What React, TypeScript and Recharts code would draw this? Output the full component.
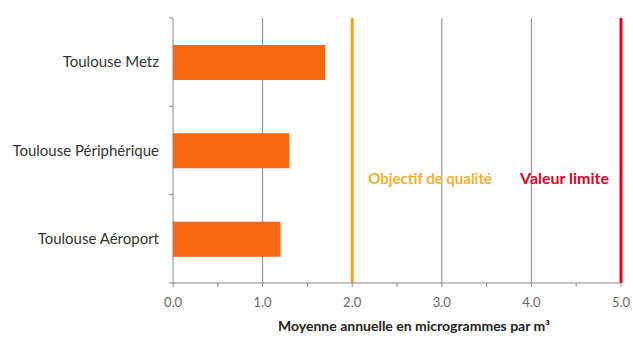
import React from "react";
import {
  BarChart,
  Bar,
  CartesianGrid,
  XAxis,
  YAxis,
  ReferenceLine,
  Label,
} from "recharts";

const stations = ["Toulouse Metz", "Toulouse Périphérique", "Toulouse Aéroport"];
const moyennes = [1.7, 1.3, 1.2];
const xTicks = [0, 0.5, 1, 1.5, 2, 2.5, 3, 3.5, 4, 4.5, 5];
const gridValues = [1, 2, 3, 4, 5];
const objectifQualite = 2;
const valeurLimite = 5;

const data = stations.map((station, i) => ({ station, moyenne: moyennes[i] }));

const FONT = "Lato, 'Open Sans', sans-serif";

function StationTick(props: any) {
  const { x, y, payload, index } = props;
  const half = payload.offset || 0;
  return (
    <g>
      <text x={x} y={y} dy={5} textAnchor="end" fontSize={15} fill="#333" fontFamily={FONT}>
        {payload.value}
      </text>
      <line x1={x + 10} x2={x + 14} y1={y - half} y2={y - half} stroke="#888" />
      {index === stations.length - 1 && (
        <line x1={x + 10} x2={x + 14} y1={y + half} y2={y + half} stroke="#888" />
      )}
    </g>
  );
}

export default function App() {
  return (
    <div style={{ position: "absolute", left: 0, top: 0, background: "#fff" }}>
      <BarChart
        width={633}
        height={338}
        data={data}
        layout="vertical"
        margin={{ top: 18, right: 12, bottom: 25, left: 0 }}
      >
        <CartesianGrid horizontal={false} verticalValues={gridValues} stroke="#888" />
        <XAxis
          type="number"
          domain={[0, 5]}
          ticks={xTicks}
          interval={0}
          height={30}
          tickSize={4}
          tickMargin={11}
          stroke="#888"
          tick={{ fill: "#666", fontSize: 13, fontFamily: FONT }}
          tickFormatter={(v: number) => (Number.isInteger(v) ? v.toFixed(1) : "")}
        >
          <Label
            value="Moyenne annuelle en microgrammes par m³"
            position="insideBottom"
            offset={-18}
            dx={17}
            style={{ fontSize: 14, fontWeight: 700, fill: "#222", fontFamily: FONT }}
          />
        </XAxis>
        <YAxis
          type="category"
          dataKey="station"
          width={173}
          tickLine={false}
          tickSize={4}
          tickMargin={10}
          stroke="#888"
          tick={<StationTick />}
        />
        <Bar dataKey="moyenne" fill="#f5680f" barSize={35} isAnimationActive={false} />
        <ReferenceLine x={objectifQualite} stroke="#f2a516" strokeWidth={3}>
          <Label
            value="Objectif de qualité"
            position="right"
            offset={16}
            dy={28}
            style={{ fontSize: 15, fontWeight: 700, fill: "#f2b030", fontFamily: FONT }}
          />
        </ReferenceLine>
        <ReferenceLine x={valeurLimite} stroke="#e3001b" strokeWidth={3}>
          <Label
            value="Valeur limite"
            position="left"
            offset={12}
            dy={28}
            style={{ fontSize: 16, fontWeight: 700, fill: "#d9002a", fontFamily: FONT }}
          />
        </ReferenceLine>
      </BarChart>
    </div>
  );
}
